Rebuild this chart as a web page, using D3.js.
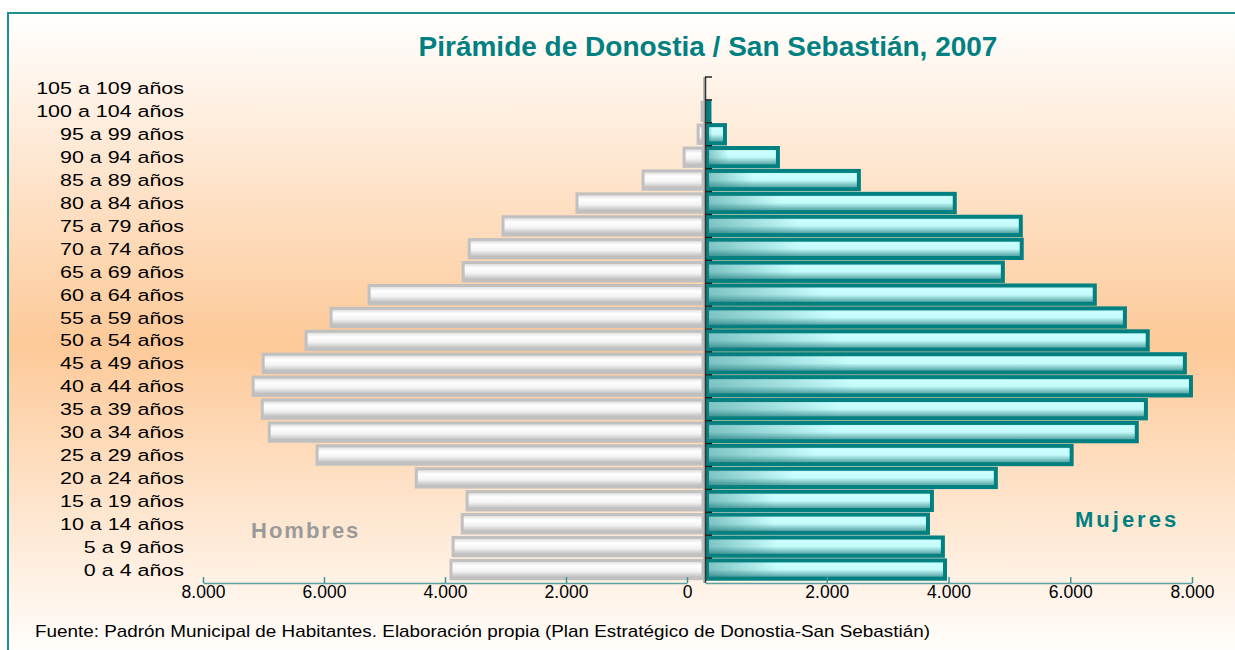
<!DOCTYPE html>
<html>
<head>
<meta charset="utf-8">
<script src="https://cdn.jsdelivr.net/npm/d3@7"></script>
<style>
  body { margin: 0; background: #fff; }
  svg { display: block; font-family: "Liberation Sans", Arial, sans-serif; }
</style>
</head>
<body>
<div id="chart"></div>
<script>
// age groups, bottom to top
var ageGroups = ["0 a 4 años", "5 a 9 años", "10 a 14 años", "15 a 19 años", "20 a 24 años",
  "25 a 29 años", "30 a 34 años", "35 a 39 años", "40 a 44 años", "45 a 49 años",
  "50 a 54 años", "55 a 59 años", "60 a 64 años", "65 a 69 años", "70 a 74 años",
  "75 a 79 años", "80 a 84 años", "85 a 89 años", "90 a 94 años", "95 a 99 años",
  "100 a 104 años", "105 a 109 años"];
var hombres = [4140, 4105, 3955, 3875, 4710, 6340, 7125, 7240, 7390, 7225,
  6520, 6110, 5485, 3940, 3840, 3285, 2070, 985, 310, 80, 15, 0];
var mujeres = [3910, 3875, 3630, 3695, 4745, 5990, 7060, 7210, 7950, 7850,
  7240, 6865, 6370, 4860, 5170, 5155, 4070, 2495, 1165, 295, 40, 0];
var tickValuesH = [0, 2000, 4000, 6000, 8000];
var tickValuesM = [2000, 4000, 6000, 8000];

var w = 1235, h = 650;
var teal = "#008080";
var es = d3.formatLocale({decimal: ",", thousands: ".", grouping: [3], currency: ["", " €"]});
var fmt = es.format(",");

var svg = d3.select("#chart").append("svg")
  .attr("width", w).attr("height", h);

var defs = svg.append("defs");
var bg = defs.append("linearGradient").attr("id", "bg").attr("x1", 0).attr("y1", 0).attr("x2", 0).attr("y2", 1);
bg.append("stop").attr("offset", 0).attr("stop-color", "#ffffff");
bg.append("stop").attr("offset", 0.52).attr("stop-color", "#fdc998");
bg.append("stop").attr("offset", 1).attr("stop-color", "#fffdfb");

var gF = defs.append("linearGradient").attr("id", "gF").attr("x1", 0).attr("y1", 0).attr("x2", 0).attr("y2", 1);
gF.append("stop").attr("offset", 0).attr("stop-color", "#a8e6e6");
gF.append("stop").attr("offset", 0.2).attr("stop-color", "#ccffff");
gF.append("stop").attr("offset", 0.5).attr("stop-color", "#c4fafa");
gF.append("stop").attr("offset", 1).attr("stop-color", "#3a8f8f");
var gF2 = defs.append("linearGradient").attr("id", "gF2").attr("x1", 0).attr("y1", 0).attr("x2", 1).attr("y2", 0);
gF2.append("stop").attr("offset", 0).attr("stop-color", "#1f7c7c").attr("stop-opacity", 0.45);
gF2.append("stop").attr("offset", 0.3).attr("stop-color", "#1f7c7c").attr("stop-opacity", 0);

var gH = defs.append("linearGradient").attr("id", "gH").attr("x1", 0).attr("y1", 0).attr("x2", 0).attr("y2", 1);
gH.append("stop").attr("offset", 0).attr("stop-color", "#d6d6d6");
gH.append("stop").attr("offset", 0.3).attr("stop-color", "#ffffff");
gH.append("stop").attr("offset", 0.6).attr("stop-color", "#f2f2f2");
gH.append("stop").attr("offset", 1).attr("stop-color", "#b0b0b0");

// frame + background
svg.append("rect").attr("x", 7).attr("y", 12).attr("width", w - 7).attr("height", h - 12)
  .attr("fill", "url(#bg)");
svg.append("path").attr("d", "M8," + h + "V13H" + w)
  .attr("fill", "none").attr("stroke", "#1a9090").attr("stroke-width", 2);

// scales
var y = d3.scaleBand().domain(ageGroups.slice().reverse()).range([77, 581])
  .paddingInner(0.2).paddingOuter(0.1);
var xH = d3.scaleLinear().domain([0, 8000]).range([703, 216]);
var xM = d3.scaleLinear().domain([0, 8000]).range([707, 1194]);
var xHAxis = d3.scaleLinear().domain([0, 8000]).range([687, 203]);
var xMAxis = d3.scaleLinear().domain([0, 8000]).range([705, 1192]);

// title
svg.append("text").attr("x", 708).attr("y", 56).attr("text-anchor", "middle")
  .attr("font-size", 28).attr("font-weight", "bold").attr("fill", teal)
  .text("Pirámide de Donostia / San Sebastián, 2007");

// bars
var rows = ageGroups.map(function(a, i) { return {age: a, h: hombres[i], m: mujeres[i]}; });

svg.append("g").selectAll("rect").data(rows.filter(function(d) { return d.h > 0; })).join("rect")
  .attr("x", function(d) { return xH(d.h); })
  .attr("y", function(d) { return y(d.age); })
  .attr("width", function(d) { return xH(0) - xH(d.h); })
  .attr("height", y.bandwidth())
  .attr("fill", "url(#gH)")
  .attr("stroke", "#c0c0c0").attr("stroke-width", 3);

var femRows = rows.filter(function(d) { return d.m > 0; });
var fem = svg.append("g");
fem.selectAll("rect.f").data(femRows).join("rect").attr("class", "f")
  .attr("x", xM(0))
  .attr("y", function(d) { return y(d.age); })
  .attr("width", function(d) { return xM(d.m) - xM(0); })
  .attr("height", y.bandwidth())
  .attr("fill", "url(#gF)")
  .attr("stroke", teal).attr("stroke-width", 4);
fem.selectAll("rect.s").data(femRows).join("rect").attr("class", "s")
  .attr("x", xM(0))
  .attr("y", function(d) { return y(d.age); })
  .attr("width", function(d) { return xM(d.m) - xM(0); })
  .attr("height", y.bandwidth())
  .attr("fill", "url(#gF2)");

// centre axis
var gap = (y.step() - y.bandwidth()) / 2;
svg.append("line").attr("x1", 704).attr("x2", 704).attr("y1", 77).attr("y2", 583)
  .attr("stroke", "#bbb").attr("stroke-width", 2);
svg.append("line").attr("x1", 705.5).attr("x2", 705.5).attr("y1", 77).attr("y2", 583)
  .attr("stroke", "#333").attr("stroke-width", 1.5);
svg.append("g").selectAll("line").data(ageGroups).join("line")
  .attr("x1", 705).attr("x2", 712)
  .attr("y1", function(d) { return y(d) - gap; })
  .attr("y2", function(d) { return y(d) - gap; })
  .attr("stroke", "#222").attr("stroke-width", 1.5);

// category labels
svg.append("g").selectAll("text").data(ageGroups).join("text")
  .attr("transform", function(d) { return "translate(184," + (y(d) + y.bandwidth() / 2 + 6) + ") scale(1.3,1)"; })
  .attr("text-anchor", "end")
  .attr("font-size", 16.5).attr("fill", "#000")
  .text(function(d) { return d; });

// x axes
function styleAxis(g) {
  g.select(".domain").attr("stroke", "#5aa3a3").attr("stroke-width", 1.5);
  g.selectAll(".tick line").attr("stroke", "#3f9696").attr("stroke-width", 1.5);
  g.selectAll(".tick text").attr("font-size", 17.5).attr("fill", "#000")
    .attr("font-family", "'Liberation Sans', Arial, sans-serif");
}
svg.append("g").attr("transform", "translate(0,583)")
  .call(d3.axisBottom(xHAxis).tickValues(tickValuesH).tickSizeInner(-6).tickSizeOuter(0)
    .tickPadding(3).tickFormat(fmt))
  .call(styleAxis);
svg.append("g").attr("transform", "translate(0,583)")
  .call(d3.axisBottom(xMAxis).tickValues(tickValuesM).tickSizeInner(-6).tickSizeOuter(0)
    .tickPadding(3).tickFormat(fmt))
  .call(styleAxis);

// series labels
svg.append("text").attr("x", 251).attr("y", 538)
  .attr("font-size", 22).attr("font-weight", "bold").attr("letter-spacing", 2)
  .attr("fill", "#9a9a9a").text("Hombres");
svg.append("text").attr("x", 1075).attr("y", 527)
  .attr("font-size", 22).attr("font-weight", "bold").attr("letter-spacing", 3)
  .attr("fill", teal).text("Mujeres");

// source
svg.append("text").attr("x", 35).attr("y", 637)
  .attr("font-size", 17).attr("fill", "#000")
  .attr("textLength", 895).attr("lengthAdjust", "spacingAndGlyphs")
  .text("Fuente: Padrón Municipal de Habitantes. Elaboración propia (Plan Estratégico de Donostia-San Sebastián)");
</script>
</body>
</html>
